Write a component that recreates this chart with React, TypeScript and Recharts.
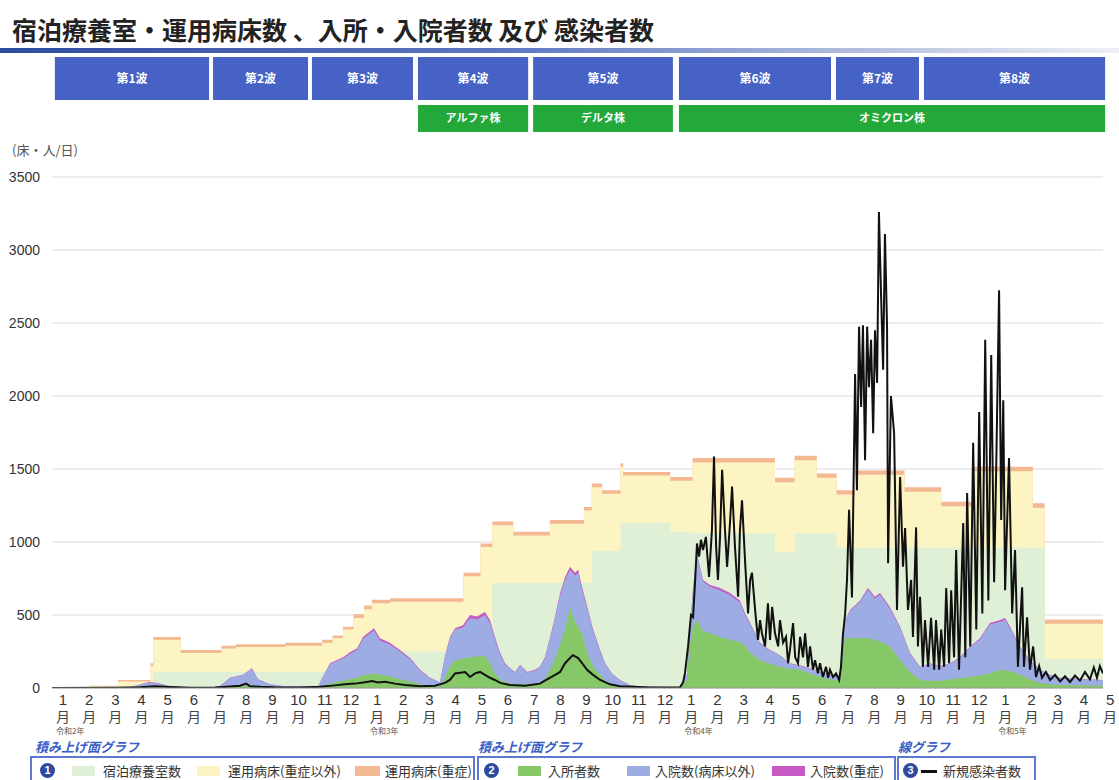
import React from 'react';
import { ComposedChart, Area, Line, XAxis, YAxis, CartesianGrid, ReferenceArea } from 'recharts';

const JP = '"Noto Sans CJK JP", "Noto Sans", sans-serif';
const NUM = '"Liberation Sans", Arial, sans-serif';

// x軸は月インデックス (0 = 令和2年1月)
const monthTicks = [
  0, 1, 2, 3, 4, 5, 6, 7, 8, 9, 10, 11, 12, 13, 14, 15, 16, 17, 18, 19, 20,
  21, 22, 23, 24, 25, 26, 27, 28, 29, 30, 31, 32, 33, 34, 35, 36, 37, 38, 39, 40,
];
const monthLabels = [
  '1', '2', '3', '4', '5', '6', '7', '8', '9', '10', '11', '12',
  '1', '2', '3', '4', '5', '6', '7', '8', '9', '10', '11', '12',
  '1', '2', '3', '4', '5', '6', '7', '8', '9', '10', '11', '12',
  '1', '2', '3', '4', '5',
];
const yearTicks = [0, 12, 24, 36];
const yearLabels = ['令和2年', '令和3年', '令和4年', '令和5年'];
const yTicks = [0, 500, 1000, 1500, 2000, 2500, 3000, 3500];

// 波・株の区間
const waveNames = ['第1波', '第2波', '第3波', '第4波', '第5波', '第6波', '第7波', '第8波'];
const waveStart = [-0.31, 5.73, 9.51, 13.56, 17.96, 23.53, 29.53, 32.89];
const waveEnd = [5.58, 9.36, 13.37, 17.77, 23.3, 29.34, 32.7, 39.81];
const strainNames = ['アルファ株', 'デルタ株', 'オミクロン株'];
const strainStart = [13.56, 17.96, 23.53];
const strainEnd = [17.77, 23.3, 39.81];

// ① 宿泊療養室・運用病床 (階段状)
const capT = [
  -0.42, 1.0, 2.1, 3.35, 3.45, 4.5, 6.05, 6.6, 8.5, 9.9, 10.3, 10.7, 11.1, 11.5, 11.8, 12.5,
  15.3, 15.95, 16.4, 17.2, 18.6, 19.9, 20.2, 20.6, 21.3, 21.4, 23.2, 24.05, 27.2, 27.95,
  28.8, 29.55, 30.25, 32.15, 33.55, 34.75, 37.05, 37.5, 39.8,
];
const hotelRooms = [
  0, 0, 0, 0, 110, 110, 110, 110, 110, 110, 120, 150, 200, 240, 250, 250,
  250, 250, 720, 720, 720, 720, 940, 940, 1130, 1130, 1070, 1060, 930, 1060,
  1060, 960, 960, 960, 960, 960, 960, 200, 200,
];
const bedsGeneral = [
  0, 12, 45, 150, 220, 130, 160, 170, 180, 200, 220, 250, 280, 300, 330, 340,
  515, 715, 395, 325, 405, 495, 435, 390, 385, 325, 350, 485, 480, 500,
  380, 365, 500, 385, 285, 525, 275, 240, 240,
];
const bedsSevere = [
  0, 3, 10, 20, 20, 20, 20, 20, 20, 20, 20, 20, 25, 25, 25, 25,
  25, 25, 25, 25, 25, 25, 25, 25, 25, 25, 25, 30, 30, 30,
  30, 30, 30, 30, 30, 30, 30, 30, 30,
];

// ② 入所者・入院者
const occT = [
  -0.42, 2.37, 2.75, 3.32, 3.71, 4.09, 5.69, 6.0, 6.38, 6.88, 7.22, 7.45, 7.91, 8.48, 9.74,
  10.2, 10.7, 10.96, 11.23, 11.46, 11.88, 12.11, 12.49, 12.87, 13.26, 13.64, 14.02, 14.4,
  14.59, 14.78, 14.98, 15.28, 15.55, 15.82, 16.12, 16.31, 16.5, 16.7, 16.89, 17.08, 17.27,
  17.46, 17.73, 18.03, 18.22, 18.41, 18.61, 18.8, 18.99, 19.18, 19.37, 19.56, 19.68, 19.83,
  20.06, 20.25, 20.52, 20.71, 20.97, 21.28, 21.66, 22.04, 23.57, 23.84, 23.95, 24.07, 24.22,
  24.45, 24.72, 25.1, 25.48, 25.86, 26.06, 26.25, 26.63, 27.01, 27.39, 27.77, 28.16, 28.54,
  28.92, 29.3, 29.68, 29.88, 30.07, 30.45, 30.75, 31.02, 31.21, 31.59, 31.98, 32.36, 32.74,
  33.12, 33.5, 33.88, 34.26, 34.65, 35.03, 35.41, 35.8, 35.99, 36.18, 36.56, 36.94, 37.33,
  37.71, 38.09, 39.73,
];
const hotelPatients = [
  0, 0, 3, 5, 5, 2, 0, 3, 10, 15, 20, 10, 5, 3, 3,
  30, 50, 60, 70, 85, 100, 90, 80, 60, 45, 25, 10, 8,
  70, 150, 190, 200, 210, 215, 220, 170, 100, 60, 40, 30, 25,
  30, 25, 30, 40, 60, 130, 200, 300, 400, 555, 450, 420, 370,
  220, 150, 90, 50, 20, 10, 5, 2, 1, 60, 300, 420, 470,
  390, 375, 350, 330, 315, 290, 240, 190, 165, 145, 130, 125, 100,
  75, 60, 50, 350, 340, 340, 340, 330, 320, 285, 190, 110, 55,
  50, 50, 60, 65, 75, 85, 100, 125, 120, 115, 90, 60, 35,
  25, 20, 15,
];
const hospGeneral = [
  0, 0, 12, 35, 23, 6, 3, 11, 58, 72, 112, 48, 19, 9, 9,
  135, 152, 175, 190, 253, 295, 235, 218, 190, 152, 95, 57, 30,
  140, 192, 210, 215, 270, 255, 280, 277, 235, 170, 122, 100, 80,
  125, 80, 90, 100, 142, 210, 278, 335, 342, 255, 320, 370, 302,
  300, 238, 162, 115, 77, 43, 14, 8, 4, 38, 95, 265, 445,
  340, 318, 320, 305, 273, 210, 197, 115, 90, 76, 37, 27, 32,
  33, 28, 23, 110, 187, 250, 333, 283, 318, 260, 222, 125, 87,
  117, 97, 107, 140, 205, 247, 335, 328, 348, 295, 187, 125, 87,
  63, 48, 38,
];
const hospSevere = [
  0, 0, 0, 2, 2, 0, 0, 1, 2, 3, 3, 2, 1, 0, 0,
  5, 8, 10, 10, 12, 15, 15, 12, 10, 8, 5, 3, 2,
  5, 8, 10, 15, 20, 20, 20, 18, 15, 10, 8, 5, 5,
  5, 5, 5, 5, 8, 10, 12, 15, 18, 20, 20, 20, 18,
  15, 12, 8, 5, 3, 2, 1, 0, 0, 2, 5, 5, 5,
  10, 12, 15, 15, 12, 10, 8, 5, 5, 4, 3, 3, 3,
  2, 2, 2, 5, 8, 10, 12, 12, 12, 10, 8, 5, 3,
  3, 3, 3, 5, 5, 8, 10, 12, 12, 10, 8, 5, 3,
  2, 2, 2,
];

// ③ 新規感染者数
const caseT = [
  -0.42, 1.99, 2.94, 3.51, 3.9, 4.85, 5.81, 6.38, 6.76, 6.99, 7.15, 7.53, 8.1, 9.05, 9.82,
  10.39, 10.77, 11.16, 11.54, 11.81, 12.03, 12.3, 12.68, 13.07, 13.64, 14.21, 14.59, 14.78,
  14.98, 15.36, 15.55, 15.74, 15.93, 16.12, 16.31, 16.5, 16.7, 17.08, 17.65, 18.22, 18.41,
  18.8, 18.99, 19.18, 19.37, 19.48, 19.68, 19.83, 20.02, 20.25, 20.52, 20.9, 21.28, 22.43,
  23.57, 23.69, 23.76, 23.88, 23.99, 24.07, 24.15, 24.22, 24.3, 24.37, 24.45, 24.56, 24.68,
  24.79, 24.87, 24.95, 25.02, 25.1, 25.18, 25.29, 25.37, 25.48, 25.56, 25.67, 25.79, 25.86,
  25.94, 26.06, 26.17, 26.25, 26.32, 26.44, 26.55, 26.63, 26.7, 26.82, 26.93, 27.01, 27.09,
  27.2, 27.32, 27.39, 27.51, 27.62, 27.7, 27.77, 27.89, 27.97, 28.08, 28.16, 28.27, 28.35,
  28.46, 28.54, 28.65, 28.73, 28.84, 28.92, 29.03, 29.15, 29.23, 29.3, 29.42, 29.53, 29.65,
  29.72, 29.8, 29.88, 29.95, 30.03, 30.14, 30.26, 30.33, 30.41, 30.49, 30.56, 30.64, 30.72,
  30.79, 30.87, 30.95, 31.02, 31.1, 31.17, 31.25, 31.33, 31.4, 31.48, 31.52, 31.63, 31.75,
  31.86, 31.98, 32.09, 32.17, 32.28, 32.4, 32.47, 32.59, 32.66, 32.74, 32.85, 32.93, 33.05,
  33.16, 33.28, 33.35, 33.47, 33.55, 33.66, 33.74, 33.85, 33.93, 34.04, 34.12, 34.23, 34.39,
  34.47, 34.54, 34.66, 34.77, 34.89, 35.0, 35.12, 35.23, 35.35, 35.46, 35.57, 35.65, 35.76,
  35.84, 35.92, 35.99, 36.14, 36.26, 36.37, 36.48, 36.64, 36.71, 36.83, 36.94, 37.06, 37.17,
  37.29, 37.4, 37.55, 37.71, 37.9, 38.09, 38.28, 38.47, 38.66, 38.85, 39.04, 39.23, 39.38,
  39.5, 39.61, 39.73,
];
const newCases = [
  0, 2, 5, 12, 8, 2, 3, 10, 15, 30, 12, 8, 5, 4, 8,
  18, 25, 30, 40, 48, 38, 42, 30, 20, 12, 15, 35, 55,
  100, 110, 75, 100, 110, 90, 70, 55, 35, 20, 15, 30, 50,
  90, 110, 170, 205, 225, 205, 170, 125, 90, 55, 25, 12, 4,
  5, 40, 100, 285, 500, 485, 740, 990, 900, 1015, 945, 1035, 760,
  1080, 1585, 970, 740, 1035, 1495, 1080, 830, 1130, 1380, 970, 625, 1080,
  1285, 855, 510, 740, 790, 535, 330, 465, 375, 285, 580, 330, 555,
  375, 285, 465, 310, 350, 170, 260, 445, 210, 170, 350, 210, 375,
  145, 285, 125, 190, 100, 170, 75, 145, 70, 125, 75, 100, 55,
  145, 375, 510, 740, 1220, 620, 2150, 1355, 2475, 1925, 2485, 1560, 2475,
  2060, 2385, 1745, 2450, 2090, 3260, 2705, 2180, 3110, 2475, 855, 2000, 1745,
  535, 1445, 830, 1095, 535, 740, 350, 1100, 285, 625, 145, 465, 145,
  480, 125, 465, 125, 400, 145, 685, 170, 670, 210, 945, 125, 1130,
  210, 1335, 285, 1680, 400, 1890, 510, 2385, 600, 2280, 725, 1500, 2725,
  1150, 1970, 670, 1575, 510, 945, 145, 690, 145, 485, 125, 285, 75,
  150, 70, 110, 55, 90, 45, 80, 40, 85, 50, 110, 60, 140,
  70, 150, 100,
];

const capData = capT.map((t, i) => ({
  t,
  hotel: hotelRooms[i],
  general: hotelRooms[i] + bedsGeneral[i],
  total: hotelRooms[i] + bedsGeneral[i] + bedsSevere[i],
}));
const occData = occT.map((t, i) => ({
  t,
  hotel: hotelPatients[i],
  general: hotelPatients[i] + hospGeneral[i],
  total: hotelPatients[i] + hospGeneral[i] + hospSevere[i],
}));
const caseData = caseT.map((t, i) => ({ t, cases: newCases[i] }));

const C = {
  hotelRoom: '#dff0d6',
  bedGeneral: '#fcf4c2',
  bedSevere: '#f4b893',
  inHotel: '#86c868',
  inHosp: '#9dace2',
  inSevere: '#c759c4',
  wave: '#4562c4',
  strain: '#23a83a',
  legend: '#3a5ec6',
};

const MonthTick = (props: any) => {
  const { x, y, payload } = props;
  const i = monthTicks.indexOf(payload.value);
  const yi = yearTicks.indexOf(payload.value);
  return (
    <g>
      <text x={x} y={y + 17} textAnchor="middle" fontSize={15} fill="#333" fontFamily={NUM}>
        {monthLabels[i]}
      </text>
      <text x={x} y={y + 34} textAnchor="middle" fontSize={14} fill="#444" fontFamily={JP}>
        月
      </text>
      {yi >= 0 && (
        <text x={x - 7} y={y + 46} fontSize={8} fill="#555" fontFamily={JP}>
          {yearLabels[yi]}
        </text>
      )}
    </g>
  );
};

const Badge = ({ n, left }: { n: string; left: number }) => (
  <div
    style={{
      position: 'absolute', left, top: 763, width: 15, height: 15, borderRadius: 8, background: '#2d4a9e',
      color: '#fff', fontSize: 11, fontWeight: 'bold', lineHeight: '15px', textAlign: 'center',
      fontFamily: NUM,
    }}
  >
    {n}
  </div>
);

const Swatch = ({ left, width, color }: { left: number; width: number; color: string }) => (
  <div style={{ position: 'absolute', left, top: 766, width, height: 10, background: color }} />
);

const Txt = ({ left, children }: { left: number; children: React.ReactNode }) => (
  <div style={{ position: 'absolute', left, top: 762, fontSize: 13, color: '#333', fontFamily: JP, whiteSpace: 'nowrap', lineHeight: '18px' }}>
    {children}
  </div>
);

const Heading = ({ left, children }: { left: number; children: React.ReactNode }) => (
  <div style={{ position: 'absolute', left, top: 739, fontSize: 13, fontWeight: 'bold', fontStyle: 'italic', color: C.legend, fontFamily: JP, whiteSpace: 'nowrap', lineHeight: '16px' }}>
    {children}
  </div>
);

const Box = ({ left, width }: { left: number; width: number }) => (
  <div style={{ position: 'absolute', left, top: 756, width, height: 40, border: '2px solid #5c78d0', boxSizing: 'border-box' }} />
);

export default function App() {
  return (
    <div style={{ position: 'absolute', left: 0, top: 0, width: 1119, height: 780, background: '#fff', overflow: 'hidden' }}>
      <div style={{ position: 'absolute', left: 12, top: 13, fontSize: 25, fontWeight: 'bold', color: '#222', fontFamily: JP, whiteSpace: 'nowrap', lineHeight: '32px' }}>
        宿泊療養室・運用病床数 、入所・入院者数 及び 感染者数
      </div>
      <div style={{ position: 'absolute', left: 0, top: 48, width: 1119, height: 5, background: 'linear-gradient(to right, #2f4b9e, #5c77c2 45%, #c9d0e6 85%, #eef0f6)' }} />
      <div style={{ position: 'absolute', left: 12, top: 141, fontSize: 13, color: '#555', fontFamily: JP, lineHeight: '18px' }}>(床・人/日)</div>

      <ComposedChart width={1119} height={780} margin={{ top: 177, right: 16, bottom: 0, left: 0 }} style={{ position: 'absolute', left: 0, top: 0 }}>
        <CartesianGrid vertical={false} stroke="#dadada" />
        <XAxis
          type="number"
          dataKey="t"
          domain={[-0.42, 39.73]}
          allowDataOverflow
          ticks={monthTicks}
          interval={0}
          tick={<MonthTick />}
          tickLine={false}
          tickSize={0}
          tickMargin={0}
          axisLine={{ stroke: '#9a9a9a' }}
          height={92}
        />
        <YAxis
          type="number"
          domain={[0, 3500]}
          allowDataOverflow
          ticks={yTicks}
          interval={0}
          width={52}
          axisLine={false}
          tickLine={false}
          tickSize={0}
          tickMargin={12}
          tick={{ fontSize: 14, fill: '#333', fontFamily: NUM }}
        />

        {waveNames.map((name, i) => (
          <ReferenceArea
            key={name}
            x1={waveStart[i]}
            x2={waveEnd[i]}
            y1={4027}
            y2={4322}
            ifOverflow="visible"
            fill={C.wave}
            fillOpacity={1}
            stroke="none"
            label={{ value: name, position: 'center', fill: '#fff', fontSize: 12, fontWeight: 'bold', fontFamily: JP }}
          />
        ))}
        {strainNames.map((name, i) => (
          <ReferenceArea
            key={name}
            x1={strainStart[i]}
            x2={strainEnd[i]}
            y1={3808}
            y2={3993}
            ifOverflow="visible"
            fill={C.strain}
            fillOpacity={1}
            stroke="none"
            label={{ value: name, position: 'center', fill: '#fff', fontSize: 11, fontWeight: 'bold', fontFamily: JP }}
          />
        ))}

        <Area data={capData} dataKey="total" type="stepAfter" fill={C.bedSevere} fillOpacity={1} stroke="none" isAnimationActive={false} />
        <Area data={capData} dataKey="general" type="stepAfter" fill={C.bedGeneral} fillOpacity={1} stroke="none" isAnimationActive={false} />
        <Area data={capData} dataKey="hotel" type="stepAfter" fill={C.hotelRoom} fillOpacity={1} stroke="none" isAnimationActive={false} />

        <Area data={occData} dataKey="total" type="linear" fill={C.inSevere} fillOpacity={1} stroke="none" isAnimationActive={false} />
        <Area data={occData} dataKey="general" type="linear" fill={C.inHosp} fillOpacity={1} stroke="none" isAnimationActive={false} />
        <Area data={occData} dataKey="hotel" type="linear" fill={C.inHotel} fillOpacity={1} stroke="none" isAnimationActive={false} />

        <Line data={caseData} dataKey="cases" type="linear" stroke="#111" strokeWidth={2} dot={false} isAnimationActive={false} />
      </ComposedChart>

      <Heading left={35}>積み上げ面グラフ</Heading>
      <Heading left={478}>積み上げ面グラフ</Heading>
      <Heading left={898}>線グラフ</Heading>
      <Box left={30} width={445} />
      <Box left={477} width={419} />
      <Box left={897} width={139} />

      <Badge n="1" left={40} />
      <Swatch left={72} width={23} color={C.hotelRoom} />
      <Txt left={103}>宿泊療養室数</Txt>
      <Swatch left={197} width={23} color={C.bedGeneral} />
      <Txt left={228}>運用病床(重症以外)</Txt>
      <Swatch left={355} width={25} color={C.bedSevere} />
      <Txt left={385}>運用病床(重症)</Txt>

      <Badge n="2" left={484} />
      <Swatch left={518} width={23} color={C.inHotel} />
      <Txt left={548}>入所者数</Txt>
      <Swatch left={627} width={23} color={C.inHosp} />
      <Txt left={655}>入院数(病床以外)</Txt>
      <Swatch left={772} width={33} color={C.inSevere} />
      <Txt left={810}>入院数(重症)</Txt>

      <Badge n="3" left={903} />
      <div style={{ position: 'absolute', left: 921, top: 770, width: 16, height: 3, background: '#111' }} />
      <Txt left={943}>新規感染者数</Txt>
    </div>
  );
}
